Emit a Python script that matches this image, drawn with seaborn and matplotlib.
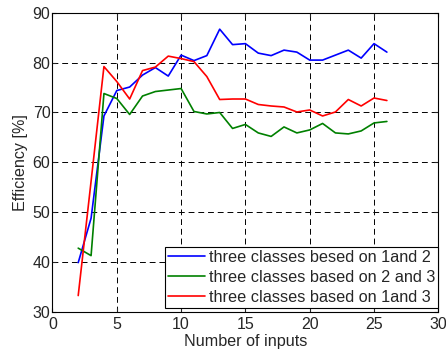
import matplotlib
matplotlib.use("Agg")
import matplotlib.pyplot as plt
import pandas as pd
import seaborn as sns

# data
n_inputs = list(range(2, 27))
eff_12 = [39.9, 48.8, 69.3, 74.4, 75.1, 77.5, 79.0, 77.3, 81.5, 80.4, 81.4, 86.7,
          83.6, 83.8, 81.9, 81.4, 82.5, 82.1, 80.5, 80.5, 81.5, 82.5, 80.9, 83.8, 82.1]
eff_23 = [42.8, 41.3, 73.8, 72.8, 69.6, 73.3, 74.2, 74.5, 74.8, 70.2, 69.7, 70.0,
          66.8, 67.6, 65.9, 65.2, 67.1, 65.9, 66.5, 67.8, 65.9, 65.7, 66.3, 67.9, 68.2]
eff_13 = [33.3, 56.2, 79.2, 76.2, 72.7, 78.4, 79.1, 81.3, 80.8, 80.2, 77.2, 72.6,
          72.7, 72.7, 71.6, 71.3, 71.1, 70.1, 70.5, 69.3, 70.1, 72.6, 71.3, 72.9, 72.4]
labels = ["three classes besed on 1and 2",
          "three classes based on 2 and 3",
          "three classes based on 1and 3"]
x_ticks = [0, 5, 10, 15, 20, 25, 30]
y_ticks = [30, 40, 50, 60, 70, 80, 90]

df = pd.concat([
    pd.DataFrame({"inputs": n_inputs, "eff": vals, "series": lab})
    for vals, lab in zip([eff_12, eff_23, eff_13], labels)
])

sns.set_style("ticks")
plt.rcParams["font.family"] = ["Liberation Sans", "DejaVu Sans"]
plt.rcParams["xtick.direction"] = "in"
plt.rcParams["ytick.direction"] = "in"

fig = plt.figure(figsize=(4.46, 3.52), dpi=100)
ax = fig.add_axes([0.1177, 0.1136, 0.8651, 0.8503])

sns.lineplot(data=df, x="inputs", y="eff", hue="series",
             palette=["#0000ff", "#008000", "#ff0000"],
             linewidth=1.2, ax=ax)

ax.set_xlim(0, 30)
ax.set_ylim(30, 90)
ax.set_xticks(x_ticks)
ax.set_yticks(y_ticks)
ax.tick_params(labelsize=11.5, length=3, width=0.8, top=True, right=True)
ax.tick_params(axis="x", pad=3.5)
ax.tick_params(axis="y", pad=1.5)
ax.grid(True, color="k", linestyle=(0, (6, 4)), linewidth=0.7)
for s in ax.spines.values():
    s.set_visible(True)
    s.set_linewidth(0.8)
    s.set_color("k")

ax.set_xlabel("Number of inputs", fontsize=11.6, labelpad=1.5)
ax.set_ylabel("Efficiency [%]", fontsize=11.6, labelpad=3.5)

leg = ax.legend(loc="lower right", bbox_to_anchor=(1.0, 0.013), fontsize=11.7,
                frameon=True, fancybox=False, edgecolor="k", framealpha=1,
                handlelength=2.3, handletextpad=0.2, borderpad=0.2,
                labelspacing=0.3, borderaxespad=0)
leg.get_frame().set_linewidth(0.8)

fig.savefig("out.png", dpi=100)
